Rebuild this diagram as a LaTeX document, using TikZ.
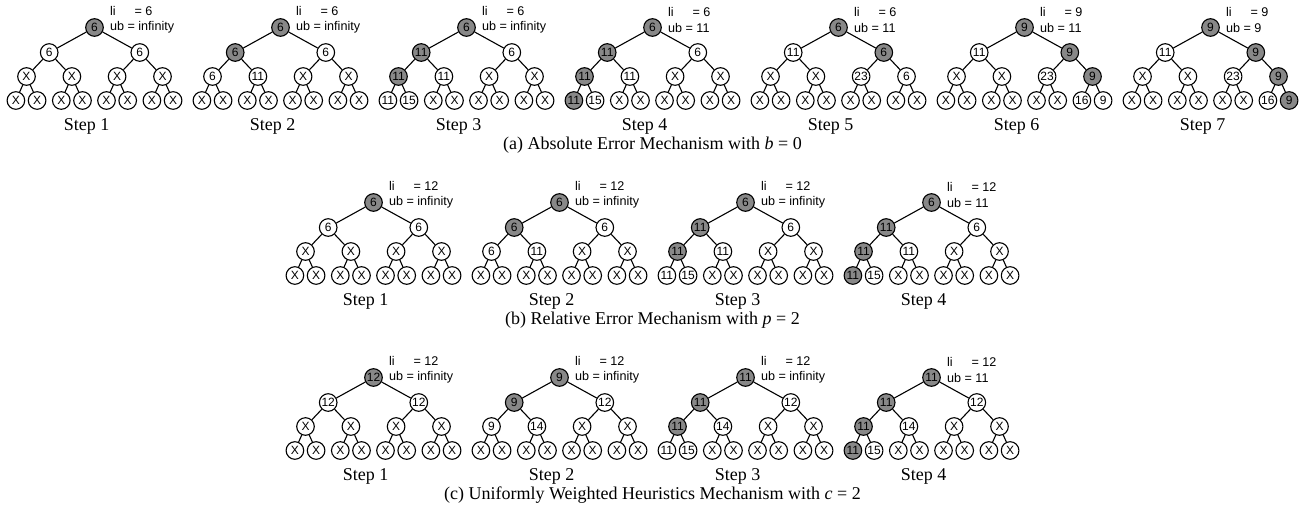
\documentclass[tikz,border=0pt]{standalone}
\usepackage{fontspec}
\setmainfont{Liberation Serif}
\newfontfamily\hv{Liberation Sans}
\usetikzlibrary{positioning}
\definecolor{hlgray}{RGB}{136,136,136}
\tikzset{
  tn/.style={circle, draw, line width=1.1pt, minimum size=17.6pt, inner sep=0pt, font=\hv\fontsize{12}{12}\selectfont},
  lit/.style={fill=hlgray},
  dim/.style={fill=white},
  edge/.style={line width=1.1pt},
  lbl/.style={inner sep=0pt, font=\hv\fontsize{12.6}{14}\selectfont},
  captxt/.style={inner sep=0pt, font=\fontsize{18}{20}\selectfont}
}
\begin{document}
\begin{tikzpicture}[x=1pt, y=-1pt]
  \useasboundingbox (0,0) rectangle (1305,506);
  % offsets of the 15 tree positions from the root
  \def\dxs{{0,-45.3,45.3,-68,-22.6,22.6,68,-78.6,-57.4,-33.2,-12,12,33.2,57.4,78.6}}
  \def\dys{{0,25,25,49,49,49,49,73,73,73,73,73,73,73,73}}

  % Trees: name/x/y/step/li/ub/{value/fill for each node}
  \foreach \t/\tx/\ty/\st/\li/\ub/\vals in {
    a1/94.5/27.5/1/6/infinity/{6/lit,6/dim,6/dim,X/dim,X/dim,X/dim,X/dim,X/dim,X/dim,X/dim,X/dim,X/dim,X/dim,X/dim,X/dim},
    a2/280.5/27.5/2/6/infinity/{6/lit,6/lit,6/dim,6/dim,11/dim,X/dim,X/dim,X/dim,X/dim,X/dim,X/dim,X/dim,X/dim,X/dim,X/dim},
    a3/466.5/27.5/3/6/infinity/{6/lit,11/lit,6/dim,11/lit,11/dim,X/dim,X/dim,11/dim,15/dim,X/dim,X/dim,X/dim,X/dim,X/dim,X/dim},
    a4/652.5/27.5/4/6/11/{6/lit,11/lit,6/dim,11/lit,11/dim,X/dim,X/dim,11/lit,15/dim,X/dim,X/dim,X/dim,X/dim,X/dim,X/dim},
    a5/838.5/27.5/5/6/11/{6/lit,11/dim,6/lit,X/dim,X/dim,23/dim,6/dim,X/dim,X/dim,X/dim,X/dim,X/dim,X/dim,X/dim,X/dim},
    a6/1024.5/27.5/6/9/11/{9/lit,11/dim,9/lit,X/dim,X/dim,23/dim,9/lit,X/dim,X/dim,X/dim,X/dim,X/dim,X/dim,16/dim,9/dim},
    a7/1210.5/27.5/7/9/9/{9/lit,11/dim,9/lit,X/dim,X/dim,23/dim,9/lit,X/dim,X/dim,X/dim,X/dim,X/dim,X/dim,16/dim,9/lit},
    b1/373.5/202.5/1/12/infinity/{6/lit,6/dim,6/dim,X/dim,X/dim,X/dim,X/dim,X/dim,X/dim,X/dim,X/dim,X/dim,X/dim,X/dim,X/dim},
    b2/559.5/202.5/2/12/infinity/{6/lit,6/lit,6/dim,6/dim,11/dim,X/dim,X/dim,X/dim,X/dim,X/dim,X/dim,X/dim,X/dim,X/dim,X/dim},
    b3/745.5/202.5/3/12/infinity/{6/lit,11/lit,6/dim,11/lit,11/dim,X/dim,X/dim,11/dim,15/dim,X/dim,X/dim,X/dim,X/dim,X/dim,X/dim},
    b4/931.5/202.5/4/12/11/{6/lit,11/lit,6/dim,11/lit,11/dim,X/dim,X/dim,11/lit,15/dim,X/dim,X/dim,X/dim,X/dim,X/dim,X/dim},
    c1/373.5/377.5/1/12/infinity/{12/lit,12/dim,12/dim,X/dim,X/dim,X/dim,X/dim,X/dim,X/dim,X/dim,X/dim,X/dim,X/dim,X/dim,X/dim},
    c2/559.5/377.5/2/12/infinity/{9/lit,9/lit,12/dim,9/dim,14/dim,X/dim,X/dim,X/dim,X/dim,X/dim,X/dim,X/dim,X/dim,X/dim,X/dim},
    c3/745.5/377.5/3/12/infinity/{11/lit,11/lit,12/dim,11/lit,14/dim,X/dim,X/dim,11/dim,15/dim,X/dim,X/dim,X/dim,X/dim,X/dim,X/dim},
    c4/931.5/377.5/4/12/11/{11/lit,11/lit,12/dim,11/lit,14/dim,X/dim,X/dim,11/lit,15/dim,X/dim,X/dim,X/dim,X/dim,X/dim,X/dim}%
  }{
    % Nodes
    \foreach \v/\s [count=\i] in \vals {
      \pgfmathsetmacro\dx{\dxs[\i-1]}
      \pgfmathsetmacro\dy{\dys[\i-1]}
      \node[tn,\s] (\t-\i) at (\tx+\dx,\ty+\dy) {\v};
    }
    % Edges
    \foreach \i in {2,...,15} {
      \pgfmathtruncatemacro\p{\i/2}
      \draw[edge] (\t-\p) -- (\t-\i);
    }
    % Bounds and step label
    \node[lbl, right=6pt of \t-1] (\t-ub) {ub = \ub};
    \node[lbl, anchor=base west] (\t-li) at ([yshift=15.5pt]\t-ub.base west) {\makebox[24.5pt][l]{li}= \li};
    \node[captxt] (\t-step) at (\tx-8,\ty+99) {Step \st};
  }

  % Captions
  \node[captxt] (capa) at (652.5,145) {(a) Absolute Error Mechanism with \textit{b} = 0};
  \node[captxt] (capb) at (652.5,320) {(b) Relative Error Mechanism with \textit{p} = 2};
  \node[captxt] (capc) at (652.5,495) {(c) Uniformly Weighted Heuristics Mechanism with \textit{c} = 2};
\end{tikzpicture}
\end{document}
